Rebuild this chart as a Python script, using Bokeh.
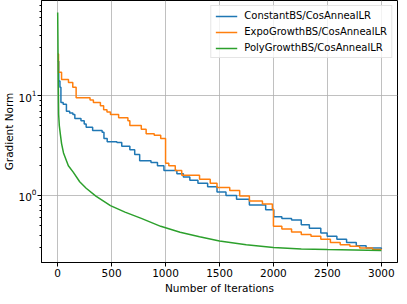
from bokeh.plotting import figure
from bokeh.models import Range1d, FixedTicker, LogTicker
from bokeh.embed import file_html
from bokeh.resources import INLINE

# ---- data ----
const_it = [0, 10, 21, 30, 51, 81, 111, 141, 159, 216, 246, 264, 324, 412, 429, 459, 549, 594,
            669, 714, 760, 865, 925, 985, 1105, 1165, 1225, 1300, 1390, 1477, 1560, 1658, 1777,
            1928, 2003, 2078, 2168, 2258, 2333, 2439, 2498, 2588, 2678, 2768, 2859, 3000]
const_val = [22, 14, 12.1, 8.5, 8.2, 6.95, 6.7, 6.45, 5.9, 5.6, 5.2, 4.8, 4.46, 4.3, 3.72, 3.45,
             3.38, 3.1, 2.87, 2.57, 2.22, 2.14, 1.98, 1.78, 1.65, 1.53, 1.42, 1.32, 1.22, 1.08,
             1.0, 0.915, 0.8, 0.72, 0.61, 0.588, 0.566, 0.507, 0.47, 0.42, 0.39, 0.363, 0.338,
             0.314, 0.298, 0.29]

expo_it = [0, 8, 36, 100, 140, 171, 300, 331, 396, 426, 457, 489, 565, 651, 669, 775, 820, 895,
           955, 1000, 1030, 1090, 1150, 1315, 1414, 1477, 1595, 1687, 1777, 1898, 1990, 2000,
           2078, 2168, 2258, 2348, 2439, 2528, 2619, 2709, 2799, 2919, 3000]
expo_val = [26, 17.1, 14.5, 13.5, 12.1, 9.5, 9.0, 8.5, 7.9, 7.2, 6.85, 6.45, 6.0, 5.6, 5.0, 4.6,
            4.15, 4.0, 3.72, 2.1, 1.98, 1.78, 1.59, 1.45, 1.32, 1.2, 1.12, 0.985, 0.88, 0.82,
            0.73, 0.49, 0.46, 0.43, 0.406, 0.39, 0.363, 0.338, 0.32, 0.31, 0.298, 0.287, 0.285]

poly_it = [0, 2, 4, 6, 9, 15, 24, 36, 54, 99, 144, 204, 264, 354, 489, 624, 775, 955, 1135,
           1315, 1500, 1748, 2000, 2258, 2500, 3000]
poly_val = [68, 40, 20, 12, 6.45, 5.0, 4.15, 3.3, 2.66, 1.98, 1.71, 1.37, 1.18, 0.985, 0.79,
            0.68, 0.588, 0.49, 0.428, 0.386, 0.35, 0.32, 0.30, 0.291, 0.287, 0.28]

series_names = ["ConstantBS/CosAnnealLR", "ExpoGrowthBS/CosAnnealLR", "PolyGrowthBS/CosAnnealLR"]
x_ticks = [0, 500, 1000, 1500, 2000, 2500, 3000]

FONT = "DejaVu Sans"
FS = "10.5px"

p = figure(width=399, height=296, y_axis_type="log",
           x_range=Range1d(-150, 3150), y_range=Range1d(0.2128, 89.5),
           output_backend="svg", toolbar_location=None,
           min_border_left=30, min_border_right=2, min_border_top=0, min_border_bottom=0)

p.step(const_it, const_val, mode="after", line_color="#1f77b4", line_width=1.5,
       legend_label=series_names[0])
p.step(expo_it, expo_val, mode="after", line_color="#ff7f0e", line_width=1.5,
       legend_label=series_names[1])
p.line(poly_it, poly_val, line_color="#2ca02c", line_width=1.5,
       legend_label=series_names[2])

p.xaxis.ticker = FixedTicker(ticks=x_ticks)
p.yaxis.ticker = LogTicker(num_minor_ticks=10)

for ax in (p.xaxis[0], p.yaxis[0]):
    ax.axis_line_color = "black"
    ax.major_tick_line_color = "black"
    ax.minor_tick_line_color = "black"
    ax.major_tick_in = 0
    ax.major_tick_out = 4
    ax.minor_tick_in = 0
    ax.minor_tick_out = 2
    ax.major_label_text_font = FONT
    ax.major_label_text_font_size = FS
    ax.major_label_text_color = "black"
    ax.axis_label_text_font = FONT
    ax.axis_label_text_font_size = FS
    ax.axis_label_text_font_style = "normal"
    ax.axis_label_text_color = "black"

p.xaxis.major_label_standoff = 2
p.xaxis.axis_label_standoff = 2
p.yaxis.major_label_standoff = 1
p.yaxis.axis_label_standoff = 0

p.xaxis.minor_tick_line_color = None
p.xaxis.axis_label = "Number of Iterations"
p.yaxis.axis_label = "Gradient Norm"

p.xgrid.grid_line_color = "#b0b0b0"
p.ygrid.grid_line_color = "#b0b0b0"
p.xgrid.grid_line_width = 0.8
p.ygrid.grid_line_width = 0.8

p.outline_line_color = "black"
p.outline_line_width = 1

lg = p.legend[0]
lg.location = "top_right"
lg.label_text_font = FONT
lg.label_text_font_size = "10px"
lg.label_text_color = "black"
lg.glyph_width = 22
lg.glyph_height = 10
lg.label_height = 10
lg.label_standoff = 7
lg.spacing = 5
lg.padding = 4
lg.margin = 5
lg.border_line_color = "#cccccc"
lg.border_line_width = 1
lg.background_fill_alpha = 0.8

open("out.html", "w").write(file_html(p, INLINE))
